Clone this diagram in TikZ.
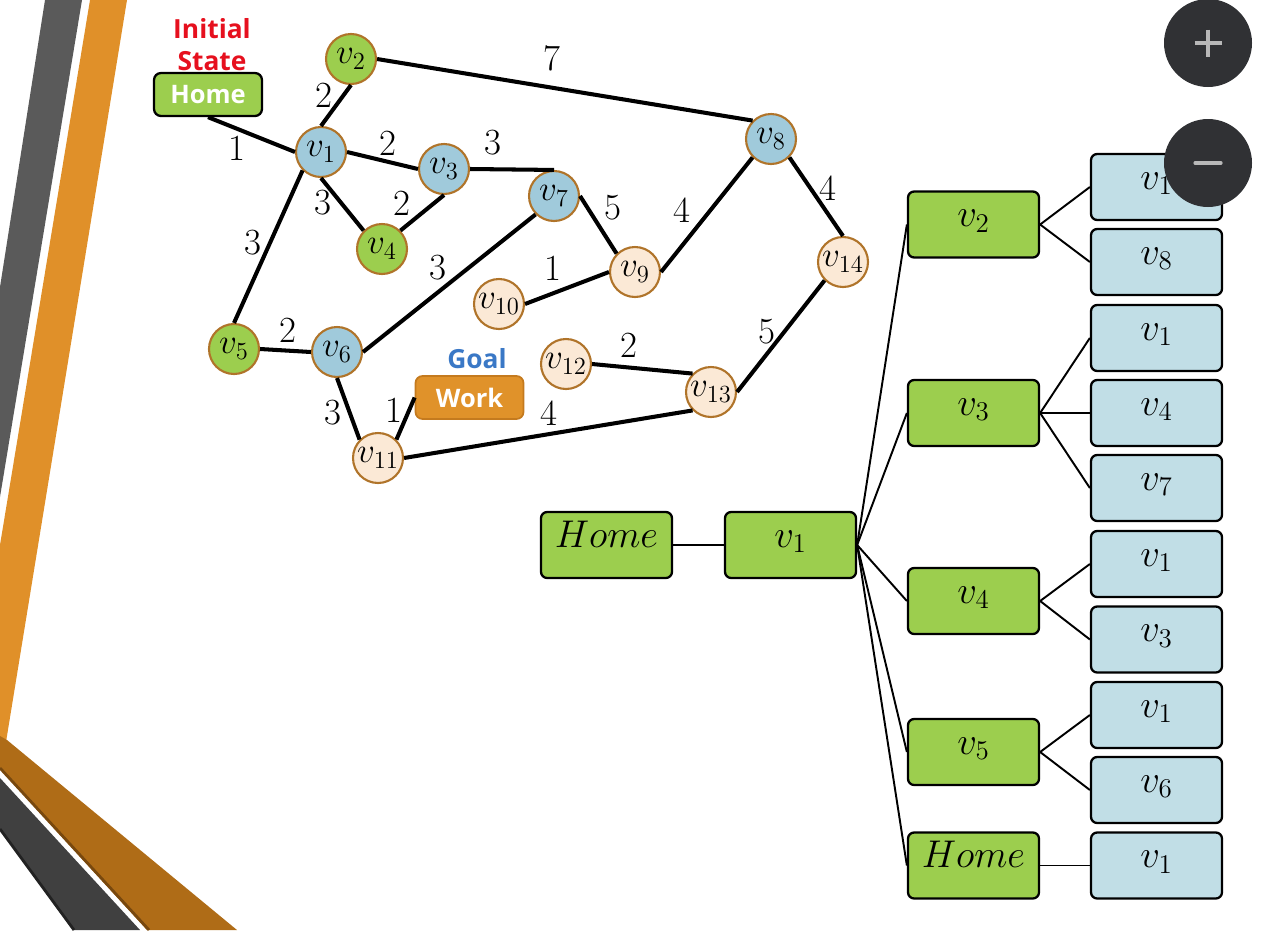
\RequirePackage{fix-cm}
\documentclass[tikz,border=0pt]{standalone}
\usepackage{fontspec}
\newfontfamily\labelfont{Open Sans}
\usetikzlibrary{positioning}
\definecolor{stategreen}{RGB}{156,206,78}
\definecolor{stateblue}{RGB}{160,202,219}
\definecolor{statepeach}{RGB}{251,233,214}
\definecolor{stateedge}{RGB}{176,116,42}
\definecolor{leafblue}{RGB}{193,222,230}
\definecolor{workorange}{RGB}{224,146,42}
\definecolor{workedge}{RGB}{196,122,30}
\definecolor{stripegray}{RGB}{90,90,90}
\definecolor{stripeorange}{RGB}{224,144,41}
\definecolor{stripebrown}{RGB}{175,108,23}
\definecolor{stripebrowndark}{RGB}{120,72,14}
\definecolor{stripedark}{RGB}{64,64,64}
\definecolor{stripeblack}{RGB}{34,34,34}
\definecolor{buttongray}{RGB}{48,49,52}
\definecolor{signgray}{RGB}{184,184,184}
\definecolor{initred}{RGB}{230,16,30}
\definecolor{goalblue}{RGB}{58,120,198}
\tikzset{
    every node/.style={align=center,},
    vertex/.style={draw=stateedge,circle,line width=1.2pt,minimum size=1cm,inner sep=0pt,font=\fontsize{20}{22}\selectfont},
    statebox/.style={draw,rectangle,rounded corners=4pt,line width=1.3pt,minimum width=2.16cm,minimum height=0.86cm,inner sep=0pt,text=white,font=\labelfont\bfseries\fontsize{14.5}{16}\selectfont},
    caption/.style={font=\labelfont\bfseries\fontsize{15}{18.2}\selectfont,inner sep=0pt},
    cost/.style={font=\fontsize{21}{24}\selectfont,inner sep=0pt},
    link/.style={line width=2.3pt},
    treebox/.style={draw,rectangle,rounded corners=3.5pt,line width=1.3pt,minimum width=2.62cm,minimum height=1.32cm,inner sep=0pt,text height=0.6cm,text depth=0.52cm,font=\fontsize{22}{24}\selectfont},
    branch/.style={line width=1.1pt},
}

\begin{document}
\begin{tikzpicture}[x=0.02cm,y=-0.02cm]
        \useasboundingbox (0,0) rectangle (1267,930);

        \fill[stripegray] (45,0) -- (82,0) -- (0,497) -- (0,287) -- cycle;
        \fill[stripeorange] (90,0) -- (127,0) -- (6,742) -- (0,742) -- (0,545) -- cycle;
        \fill[stripebrown] (0,736) -- (7,740) -- (237,930) -- (147,930) -- (0,769) -- cycle;
        \draw[stripebrowndark, line width=1.6pt] (0,768) -- (149,930);
        \fill[stripedark] (0,778) -- (140,930) -- (73,930) -- (0,830) -- cycle;
        \draw[stripeblack, line width=1.6pt] (0,829) -- (74,930);

        \node[caption, text=initred] (initial) at (212,45) {Initial\\State};
        \node[statebox, fill=stategreen] (home) at (208,94.5) {Home};
        \node[caption, text=goalblue] (goal) at (477,359) {Goal};
        \node[statebox, draw=workedge, line width=1pt, fill=workorange] (work) at (469.5,397.5) {Work};

        \node[vertex, fill=stategreen] (v2) at (351,59) {$v_2$};
        \node[vertex, fill=stateblue] (v1) at (321,152) {$v_1$};
        \node[vertex, fill=stateblue] (v3) at (444,169) {$v_3$};
        \node[vertex, fill=stategreen] (v4) at (382,249) {$v_4$};
        \node[vertex, fill=stateblue] (v7) at (554,196) {$v_7$};
        \node[vertex, fill=stateblue] (v8) at (771,139) {$v_8$};
        \node[vertex, fill=statepeach] (v9) at (635,272) {$v_9$};
        \node[vertex, fill=statepeach] (v10) at (499,304) {$v_{10}$};
        \node[vertex, fill=statepeach] (v14) at (843,262) {$v_{14}$};
        \node[vertex, fill=stategreen] (v5) at (234,349) {$v_5$};
        \node[vertex, fill=stateblue] (v6) at (337,352) {$v_6$};
        \node[vertex, fill=statepeach] (v12) at (566,364) {$v_{12}$};
        \node[vertex, fill=statepeach] (v13) at (711,392) {$v_{13}$};
        \node[vertex, fill=statepeach] (v11) at (378,458) {$v_{11}$};

        \draw[link] (home.south) to (v1.west);
        \draw[link] (v1.north) to (v2.south);
        \draw[link] (v2.east) to (v8.north west);
        \draw[link] (v1.east) to (v3.west);
        \draw[link] (v3.east) to (v7.north);
        \draw[link] (v1.south) to (v4.north west);
        \draw[link] (v3.south) to (v4.north east);
        \draw[link] (v1.south west) to (v5.north);
        \draw[link] (v5.east) to (v6.west);
        \draw[link] (v6.east) to (v7.south west);
        \draw[link] (v7.east) to (v9.north west);
        \draw[link] (v9.east) to (v8.south west);
        \draw[link] (v10.east) to (v9.west);
        \draw[link] (v8.south east) to (v14.north);
        \draw[link] (v14.south west) to (v13.east);
        \draw[link] (v12.east) to (v13.north west);
        \draw[link] (v6.south) to (v11.north west);
        \draw[link] (v11.north east) to (work.west);
        \draw[link] (v11.east) to (v13.south west);

        \node[cost] (c_home_v1) at (237,148) {1};
        \node[cost] (c_v1_v2) at (324,95) {2};
        \node[cost] (c_v2_v8) at (552,58) {7};
        \node[cost] (c_v1_v3) at (388,143) {2};
        \node[cost] (c_v3_v7) at (493,143) {3};
        \node[cost] (c_v1_v4) at (323,203) {3};
        \node[cost] (c_v3_v4) at (402,203) {2};
        \node[cost] (c_v1_v5) at (253,243) {3};
        \node[cost] (c_v5_v6) at (288,330) {2};
        \node[cost] (c_v6_v7) at (438,268) {3};
        \node[cost] (c_v7_v9) at (613,208) {5};
        \node[cost] (c_v9_v8) at (682,210) {4};
        \node[cost] (c_v10_v9) at (553,268) {1};
        \node[cost] (c_v8_v14) at (828,188) {4};
        \node[cost] (c_v14_v13) at (767,332) {5};
        \node[cost] (c_v12_v13) at (629,345) {2};
        \node[cost] (c_v6_v11) at (333,413) {3};
        \node[cost] (c_v11_work) at (394,410) {1};
        \node[cost] (c_v11_v13) at (549,413) {4};

        \node[treebox, fill=stategreen] (t_home) at (606.5,545) {$Home$};
        \node[treebox, fill=stategreen] (t_v1) at (790.5,545) {$v_1$};

        \node[treebox, fill=stategreen] (t_v2) at (973.5,224.5) {$v_2$};
        \node[treebox, fill=stategreen] (t_v3) at (973.5,413) {$v_3$};
        \node[treebox, fill=stategreen] (t_v4) at (973.5,601) {$v_4$};
        \node[treebox, fill=stategreen] (t_v5) at (973.5,752) {$v_5$};
        \node[treebox, fill=stategreen] (t_v1_home) at (973.5,865.5) {$Home$};

        \node[treebox, fill=leafblue] (t_v2_v1) at (1156.5,187) {$v_1$};
        \node[treebox, fill=leafblue] (t_v2_v8) at (1156.5,262) {$v_8$};
        \node[treebox, fill=leafblue] (t_v3_v1) at (1156.5,338) {$v_1$};
        \node[treebox, fill=leafblue] (t_v3_v4) at (1156.5,413) {$v_4$};
        \node[treebox, fill=leafblue] (t_v3_v7) at (1156.5,488) {$v_7$};
        \node[treebox, fill=leafblue] (t_v4_v1) at (1156.5,564) {$v_1$};
        \node[treebox, fill=leafblue] (t_v4_v3) at (1156.5,639.5) {$v_3$};
        \node[treebox, fill=leafblue] (t_v5_v1) at (1156.5,715) {$v_1$};
        \node[treebox, fill=leafblue] (t_v5_v6) at (1156.5,790) {$v_6$};
        \node[treebox, fill=leafblue] (t_home_v1) at (1156.5,865.5) {$v_1$};

        \draw[branch] (t_home) to (t_v1);
        \draw[branch] (t_v1.east) to (t_v2.west);
        \draw[branch] (t_v1.east) to (t_v3.west);
        \draw[branch] (t_v1.east) to (t_v4.west);
        \draw[branch] (t_v1.east) to (t_v5.west);
        \draw[branch] (t_v1.east) to (t_v1_home.west);
        \draw[branch] (t_v2.east) to (t_v2_v1.west);
        \draw[branch] (t_v2.east) to (t_v2_v8.west);
        \draw[branch] (t_v3.east) to (t_v3_v1.west);
        \draw[branch] (t_v3.east) to (t_v3_v4.west);
        \draw[branch] (t_v3.east) to (t_v3_v7.west);
        \draw[branch] (t_v4.east) to (t_v4_v1.west);
        \draw[branch] (t_v4.east) to (t_v4_v3.west);
        \draw[branch] (t_v5.east) to (t_v5_v1.west);
        \draw[branch] (t_v5.east) to (t_v5_v6.west);
        \draw[branch] (t_v1_home.east) to (t_home_v1.west);

        \fill[buttongray] (1208,43) circle (44);
        \draw[signgray, line width=1.8pt] (1194.5,43) -- (1221.5,43) (1208,29.5) -- (1208,56.5);
        \fill[buttongray] (1208,163) circle (44);
        \draw[signgray, line width=1.8pt, line cap=round] (1195,163) -- (1221,163);
    \end{tikzpicture}
\end{document}
